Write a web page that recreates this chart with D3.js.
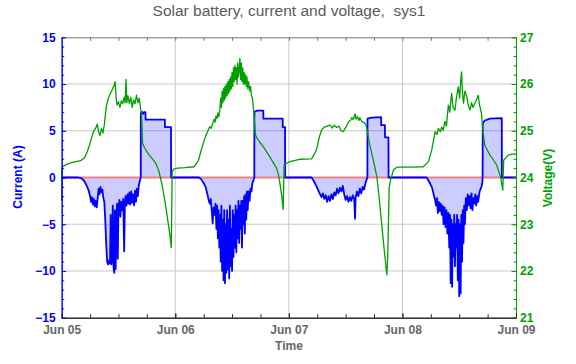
<!DOCTYPE html>
<html><head><meta charset="utf-8">
<script src="https://cdn.jsdelivr.net/npm/d3@7"></script>
<style>
body{margin:0;background:#fff;}
svg{display:block;font-family:"Liberation Sans",Arial,sans-serif;}
.title{white-space:pre;}
</style></head>
<body>
<svg id="chart" width="576" height="364"></svg>
<script>
// ---------- data ----------
const title = "Solar battery, current and voltage,  sys1";
const dayTicks = [0, 24, 48, 72, 96];          // hours since Jun 05 00:00
const dayLabels = ["Jun 05", "Jun 06", "Jun 07", "Jun 08", "Jun 09"];
const currentTicks = [-15, -10, -5, 0, 5, 10, 15];
const voltageTicks = [21, 22, 23, 24, 25, 26, 27];

// [hour, amps]
const currentSeries = [
 [0,0],[3.5,0],[4.2,-0.1],[4.8,-0.4],[5.3,-0.9],[5.7,-1.4],[6.0,-2.0],[6.2,-2.6],[6.4,-2.1],[6.6,-2.9],[6.8,-2.3],[7.0,-3.1],[7.2,-2.5],[7.4,-3.2],[7.6,-2.2],[7.8,-1.2],[8.0,-1.8],[8.2,-1.0],[8.4,-1.6],[8.6,-1.3],[8.8,-2.2],[9.0,-2.6],[9.2,-4.5],[9.4,-7.0],[9.6,-9.0],[9.8,-9.3],[10.0,-8.9],[10.2,-9.2],[10.35,-4.0],[10.5,-9.3],[10.65,-8.8],[10.8,-3.0],[10.95,-9.6],[11.1,-10.2],[11.25,-3.5],[11.4,-9.8],[11.55,-5.0],[11.7,-2.8],[11.85,-8.7],[12.0,-3.2],[12.2,-2.4],[12.4,-4.2],[12.6,-2.6],[12.8,-3.5],[13.0,-2.3],[13.2,-7.9],[13.35,-2.8],[13.5,-2.0],[13.7,-3.0],[13.9,-1.8],[14.1,-2.8],[14.3,-1.6],[14.5,-2.9],[14.7,-1.5],[14.9,-2.7],[15.1,-1.8],[15.3,-3.0],[15.5,-1.4],[15.7,-2.6],[15.9,-1.2],[16.1,-2.0],[16.3,-0.8],[16.5,-0.4],[16.7,0],
 [16.72,6.9],[17.0,7.0],[17.2,6.8],[17.4,7.0],[17.7,7.0],[17.72,6.2],[21.8,6.2],[21.82,5.4],[23.1,5.4],[23.12,0],
 [29.0,0],[29.5,-0.2],[30.0,-0.6],[30.4,-1.0],[30.8,-1.8],[31.1,-2.5],[31.3,-2.8],[31.5,-2.3],[31.7,-3.5],[31.9,-4.9],[32.1,-3.2],[32.3,-4.0],[32.5,-2.8],[32.7,-5.5],[32.85,-3.0],[33.0,-6.5],[33.15,-3.5],[33.3,-7.5],[33.45,-4.0],[33.6,-9.0],[33.75,-3.0],[33.9,-10.0],[34.05,-4.5],[34.2,-11.0],[34.35,-3.5],[34.5,-11.3],[34.65,-5.0],[34.8,-10.2],[34.95,-3.5],[35.1,-9.8],[35.25,-4.5],[35.4,-10.8],[35.55,-3.0],[35.7,-9.5],[35.85,-5.5],[36.0,-10.0],[36.15,-3.5],[36.3,-8.5],[36.45,-4.0],[36.6,-7.5],[36.75,-3.0],[36.9,-8.0],[37.05,-3.5],[37.2,-6.5],[37.35,-2.5],[37.5,-7.0],[37.65,-3.0],[37.8,-5.5],[37.95,-2.5],[38.1,-7.5],[38.25,-2.5],[38.4,-5.0],[38.55,-2.0],[38.7,-6.0],[38.85,-1.8],[39.0,-4.5],[39.15,-1.5],[39.3,-3.5],[39.5,-1.5],[39.7,-2.5],[39.9,-1.2],[40.1,-1.5],[40.3,-0.6],[40.6,-0.2],[40.7,0],
 [40.72,7.0],[41.2,7.15],[42.6,7.15],[42.62,6.3],[46.7,6.3],[46.72,5.4],[47.2,5.4],[47.22,0],
 [52.8,0],[53.3,-0.4],[53.9,-1.0],[54.4,-1.6],[54.9,-2.1],[55.2,-1.7],[55.5,-2.3],[55.8,-1.9],[56.1,-2.6],[56.4,-2.0],[56.7,-2.5],[57.0,-1.8],[57.3,-2.3],[57.6,-1.6],[57.9,-1.9],[58.2,-1.2],[58.5,-1.7],[58.8,-1.1],[59.1,-1.5],[59.4,-0.9],[59.7,-1.8],[60.0,-2.4],[60.3,-2.0],[60.6,-2.6],[60.9,-2.1],[61.2,-2.5],[61.5,-1.9],[61.8,-2.3],[62.0,-4.4],[62.1,-2.2],[62.4,-1.5],[62.7,-2.0],[63.0,-1.2],[63.3,-1.7],[63.6,-1.0],[63.9,-1.3],[64.2,-0.6],[64.45,-0.2],[64.6,0],
 [64.62,6.3],[65.5,6.4],[67.5,6.45],[67.52,5.6],[68.3,5.6],[68.32,4.3],[69.05,4.3],[69.07,0],
 [77.1,0],[77.6,-0.4],[78.2,-1.0],[78.6,-1.8],[78.9,-2.4],[79.1,-3.0],[79.3,-2.2],[79.5,-3.8],[79.7,-2.6],[79.9,-3.6],[80.1,-2.8],[80.3,-4.0],[80.5,-3.0],[80.7,-5.0],[80.9,-3.2],[81.1,-5.3],[81.3,-3.5],[81.5,-6.0],[81.7,-3.8],[81.9,-7.5],[82.05,-4.0],[82.2,-11.3],[82.35,-4.5],[82.5,-11.7],[82.65,-5.0],[82.8,-8.5],[82.95,-4.0],[83.1,-9.5],[83.25,-5.0],[83.4,-7.5],[83.55,-4.0],[83.7,-11.0],[83.85,-4.5],[84.0,-12.7],[84.15,-5.0],[84.3,-12.4],[84.45,-4.0],[84.6,-9.0],[84.75,-3.5],[84.9,-7.0],[85.05,-3.0],[85.2,-5.0],[85.4,-2.2],[85.6,-3.5],[85.8,-1.8],[86.0,-3.0],[86.2,-2.0],[86.4,-3.3],[86.6,-1.7],[86.8,-3.5],[87.0,-2.2],[87.2,-2.8],[87.4,-1.8],[87.6,-3.0],[87.8,-2.0],[88.0,-2.6],[88.3,-1.5],[88.7,-1.0],[88.9,-0.5],[88.95,0],
 [88.97,5.8],[89.4,6.1],[90.5,6.3],[93.0,6.35],[93.02,0],[96,0]
];

// [hour, volts]
const voltageSeries = [
 [0,23.5],[0.05,24.22],[1,24.28],[2,24.32],[3,24.34],[4,24.36],[4.8,24.42],[5.4,24.55],[5.9,24.7],[6.4,24.88],[6.8,25.0],[7.2,25.06],[7.5,25.14],[7.8,24.98],[8.1,24.9],[8.4,25.05],[8.7,24.95],[9.0,25.12],[9.4,25.5],[9.8,25.68],[10.2,25.78],[10.6,25.86],[11.0,25.95],[11.3,26.05],[11.5,25.7],[11.7,25.55],[12.0,25.62],[12.3,25.5],[12.6,25.64],[12.9,25.58],[13.2,25.72],[13.4,25.6],[13.6,26.1],[13.75,25.6],[14.0,25.75],[14.3,25.58],[14.6,25.72],[14.9,25.5],[15.2,25.66],[15.5,25.58],[15.8,25.76],[16.1,25.6],[16.4,25.7],[16.7,25.45],[16.9,25.3],[17.1,24.72],[17.6,24.62],[18.2,24.52],[19.0,24.42],[19.8,24.32],[20.5,24.15],[21.2,23.85],[21.8,23.5],[22.4,23.1],[22.9,22.75],[23.15,22.5],[23.35,24.12],[23.7,24.18],[24.5,24.2],[26,24.21],
 [28.0,24.23],[28.5,24.3],[28.9,24.37],[29.4,24.55],[29.9,24.73],[30.4,24.88],[30.9,25.0],[31.3,25.09],[31.6,25.05],[32.0,25.19],[32.2,25.25],[32.4,25.18],[32.6,25.32],[32.8,25.26],[33.0,25.38],[33.2,25.3],[33.4,25.45],[33.6,25.7],[33.75,25.5],[33.9,25.85],[34.05,25.6],[34.2,25.9],[34.35,25.65],[34.5,25.95],[34.65,25.7],[34.8,26.0],[34.95,25.75],[35.1,26.05],[35.25,25.8],[35.4,26.1],[35.55,25.85],[35.7,26.15],[35.85,25.9],[36.0,26.25],[36.15,25.95],[36.3,26.35],[36.45,26.05],[36.6,26.4],[36.75,26.1],[36.9,26.35],[37.05,26.0],[37.2,26.45],[37.35,26.15],[37.5,26.3],[37.65,26.55],[37.8,26.1],[37.95,26.45],[38.1,26.05],[38.25,26.35],[38.4,26.0],[38.55,26.25],[38.7,26.0],[38.85,26.2],[39.0,25.95],[39.15,26.15],[39.3,25.9],[39.5,26.05],[39.7,25.85],[39.9,25.95],[40.1,25.75],[40.3,25.7],[40.5,25.5],[40.7,25.25],[40.9,24.95],[41.1,24.87],[41.8,24.76],[42.6,24.66],[43.3,24.55],[44.0,24.44],[44.7,24.32],[45.4,24.2],[45.8,24.06],[46.1,23.88],[46.5,23.6],[46.8,23.31],[47.0,24.27],[47.5,24.3],[48.2,24.34],[50.3,24.39],
 [52.8,24.4],[53.4,24.5],[53.9,24.62],[54.4,24.85],[54.9,25.01],[55.5,25.08],[56.1,25.1],[56.7,25.12],[57.2,25.06],[57.6,25.12],[58.1,25.07],[58.6,25.1],[59.0,25.0],[59.5,24.98],[59.9,25.05],[60.3,25.12],[60.6,25.19],[61.0,25.22],[61.3,25.28],[61.6,25.24],[62.0,25.36],[62.2,25.25],[62.5,25.3],[62.8,25.22],[63.0,25.28],[63.4,25.2],[63.8,25.18],[64.1,25.16],[64.4,25.08],[64.6,24.98],[65.0,24.75],[65.5,24.52],[66.0,24.3],[66.6,24.02],[67.1,23.55],[67.6,23.02],[68.1,22.5],[68.7,21.92],[68.9,22.3],[69.2,23.8],[69.5,23.95],[70.1,24.16],[70.8,24.22],[72,24.22],[74,24.22],
 [76.4,24.23],[77.5,24.34],[78.2,24.59],[78.9,24.98],[79.3,24.92],[79.6,25.05],[80.0,24.98],[80.3,25.08],[80.6,25.01],[81.0,25.2],[81.3,25.1],[81.7,25.55],[82.0,25.4],[82.4,25.8],[82.7,25.5],[83.1,25.44],[83.4,25.7],[83.8,25.94],[84.1,25.7],[84.3,26.05],[84.5,26.26],[84.7,25.8],[84.9,25.59],[85.2,25.85],[85.6,25.73],[85.9,25.55],[86.3,25.44],[86.6,25.6],[86.9,25.5],[87.3,25.59],[87.6,25.65],[88.0,25.76],[88.3,25.55],[88.7,25.37],[89.0,25.0],[89.4,24.69],[90.0,24.57],[90.5,24.48],[91.2,24.38],[91.9,24.27],[92.4,24.12],[92.8,23.98],[93.2,23.73],[93.4,24.37],[93.9,24.43],[94.4,24.48],[95.2,24.5],[96,24.5]
];

// ---------- layout ----------
const L = 61.7, R = 516, T = 37.3, B = 317.7;
const blue = "#0000ff", green = "#00a000", gray = "#666666";

const svg = d3.select("#chart");
const x = d3.scaleLinear().domain([0, 96]).range([L, R]);
const yI = d3.scaleLinear().domain([-15, 15]).range([B, T]);
const yV = d3.scaleLinear().domain([21, 27]).range([B, T]);

// grid
const g = svg.append("g");
g.selectAll("line.vg").data([24, 48, 72]).join("line")
  .attr("x1", d => x(d)).attr("x2", d => x(d)).attr("y1", T).attr("y2", B)
  .attr("stroke", "#c8c8c8").attr("stroke-width", 1);
g.selectAll("line.hg").data([-10, -5, 5, 10]).join("line")
  .attr("x1", L).attr("x2", R).attr("y1", d => yI(d)).attr("y2", d => yI(d))
  .attr("stroke", "#c8c8c8").attr("stroke-width", 1);

// current fill
svg.append("path").datum(currentSeries)
  .attr("d", d3.area().x(d => x(d[0])).y0(yI(0)).y1(d => yI(d[1])))
  .attr("fill", "rgba(0,0,255,0.2)");

// zero reference line
svg.append("line").attr("x1", L).attr("x2", R).attr("y1", yI(0)).attr("y2", yI(0))
  .attr("stroke", "#f08080").attr("stroke-width", 2);

// current line
svg.append("path").datum(currentSeries)
  .attr("d", d3.line().x(d => x(d[0])).y(d => yI(d[1])))
  .attr("fill", "none").attr("stroke", blue).attr("stroke-width", 1.8)
  .attr("stroke-linejoin", "round");

// voltage line
svg.append("path").datum(voltageSeries)
  .attr("d", d3.line().x(d => x(d[0])).y(d => yV(d[1])))
  .attr("fill", "none").attr("stroke", green).attr("stroke-width", 1.3)
  .attr("stroke-linejoin", "round");

// axes
function styleAxis(sel, color, textColor) {
  sel.selectAll("path.domain").attr("stroke", color).attr("stroke-width", 1);
  sel.selectAll(".tick line").attr("stroke", color);
  sel.selectAll("text").attr("fill", textColor).attr("font-size", 12)
     .attr("font-weight", "bold").attr("font-family", "Liberation Sans, Arial, sans-serif");
}
const fmt = d3.format("d");

// minor ticks
svg.append("g").attr("transform", `translate(${L},0)`)
  .call(d3.axisLeft(yI).tickValues(d3.range(-15, 16, 1)).tickSize(-2.5).tickSizeOuter(0).tickFormat(""))
  .call(s => styleAxis(s, blue, blue));
svg.append("g").attr("transform", `translate(${R},0)`)
  .call(d3.axisRight(yV).tickValues(d3.range(21, 27.01, 0.2)).tickSize(-2.5).tickSizeOuter(0).tickFormat(""))
  .call(s => styleAxis(s, green, green));
svg.append("g").attr("transform", `translate(0,${B})`)
  .call(d3.axisBottom(x).tickValues(d3.range(0, 97, 6)).tickSize(-3.5).tickSizeOuter(0).tickFormat(""))
  .call(s => styleAxis(s, "#222", gray));
svg.append("g").attr("transform", `translate(0,${T})`)
  .call(d3.axisTop(x).tickValues(d3.range(0, 97, 6)).tickSize(-3.5).tickSizeOuter(0).tickFormat(""))
  .call(s => styleAxis(s, "#777", gray));

// major ticks + labels
svg.append("g").attr("transform", `translate(${L},0)`)
  .call(d3.axisLeft(yI).tickValues(currentTicks).tickSize(-4.5).tickSizeOuter(0).tickPadding(6).tickFormat(d3.format("")))
  .call(s => styleAxis(s, blue, blue));
svg.append("g").attr("transform", `translate(${R},0)`)
  .call(d3.axisRight(yV).tickValues(voltageTicks).tickSize(-4.5).tickSizeOuter(0).tickPadding(4).tickFormat(fmt))
  .call(s => styleAxis(s, green, green));
svg.append("g").attr("transform", `translate(0,${B})`)
  .call(d3.axisBottom(x).tickValues(dayTicks).tickSize(-4.5).tickSizeOuter(0).tickPadding(7.5)
        .tickFormat((d, i) => dayLabels[i]))
  .call(s => styleAxis(s, "#222", gray));

// title and axis labels
svg.append("text").attr("class", "title").attr("x", 289).attr("y", 16).attr("text-anchor", "middle")
  .attr("font-size", 15.5).attr("fill", "#5a5a5a").text(title);
svg.append("text").attr("transform", `translate(22,177) rotate(-90)`).attr("text-anchor", "middle")
  .attr("font-size", 12).attr("font-weight", "bold").attr("fill", blue).text("Current (A)");
svg.append("text").attr("transform", `translate(552,178) rotate(-90)`).attr("text-anchor", "middle")
  .attr("font-size", 12).attr("font-weight", "bold").attr("fill", green).text("Voltage(V)");
svg.append("text").attr("x", 289).attr("y", 350).attr("text-anchor", "middle")
  .attr("font-size", 12).attr("font-weight", "bold").attr("fill", gray).text("Time");
</script>
</body></html>
